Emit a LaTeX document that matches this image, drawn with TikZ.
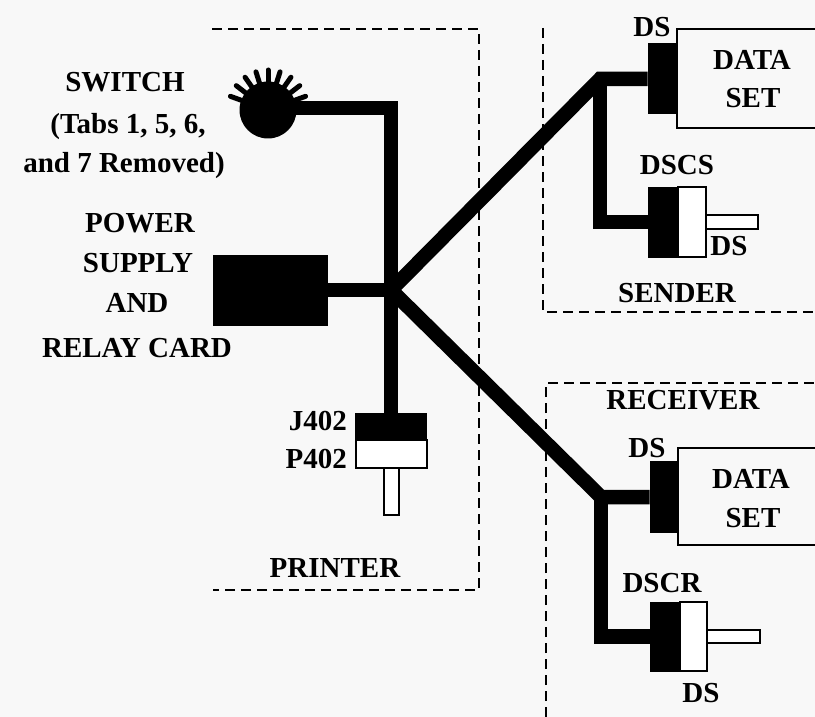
\documentclass[tikz,border=0pt]{standalone}
\usepackage{fontspec}
\setmainfont{Liberation Serif}
\definecolor{bgc}{RGB}{248,248,248}
\begin{document}
\begin{tikzpicture}[x=1pt,y=-1pt,
  wire/.style={line width=14.5pt, line join=miter},
  lbl/.style={font=\fontsize{29}{34}\selectfont\bfseries, inner sep=0pt, anchor=base},
  blk/.style={rectangle, fill=black, draw=black, line width=1pt, inner sep=0pt},
  wht/.style={rectangle, fill=white, draw=black, line width=2pt, inner sep=0pt},
  boxline/.style={dash pattern=on 10pt off 6pt, line width=2.2pt},
  thin/.style={line width=2pt}]
\fill[bgc] (0,0) rectangle (815,717);
\useasboundingbox (0,0) rectangle (815,717);

% dashed enclosures
\draw[boxline] (212,29) -- (479,29) -- (479,590) -- (213,590);
\draw[boxline] (543,28) -- (543,312) -- (815,312);
\draw[boxline] (546,717) -- (546,383) -- (815,383);

% components
\node[circle, fill=black, minimum size=57pt, inner sep=0pt] (sw) at (268,110) {};
\foreach \a in {160,142.5,...,20}
  \draw[line width=5pt, line cap=round] ({268+22*cos(\a)},{110-22*sin(\a)}) -- ({268+40*cos(\a)},{110-40*sin(\a)});
\node[blk, minimum width=114pt, minimum height=70pt] (psu) at (270,290) {};

\node[blk, minimum width=71pt, minimum height=27pt] (j402) at (391,426.5) {};
\node[wht, minimum width=71pt, minimum height=28pt] (p402) at (391,454) {};
\node[wht, minimum width=15pt, minimum height=47pt] (ppin) at (391,491.5) {};

% sender
\node[blk, minimum width=29pt, minimum height=70pt] (sds) at (662.5,79) {};
\draw[thin] (815,29) -- (677,29) -- (677,128) -- (815,128);
\node[blk, minimum width=30pt, minimum height=70pt] (sdscsb) at (663,222) {};
\node[wht, minimum width=28pt, minimum height=70pt] (sdscsw) at (692,222) {};
\node[wht, minimum width=52pt, minimum height=14pt] (spin) at (732,222) {};

% receiver
\node[blk, minimum width=28pt, minimum height=71pt] (rds) at (664,497) {};
\draw[thin] (815,448) -- (678,448) -- (678,545) -- (815,545);
\node[blk, minimum width=30pt, minimum height=69pt] (rdscrb) at (665,636.5) {};
\node[wht, minimum width=27pt, minimum height=69pt] (rdscrw) at (693.5,636.5) {};
\node[wht, minimum width=53pt, minimum height=13pt] (rpin) at (733.5,636.5) {};

% wires
\coordinate (swc) at (391,108);
\coordinate (jct) at (391,290);
\coordinate (sjct) at (600,79);
\coordinate (rjct) at (601,497);
\draw[wire] (sw.center |- swc) -- (swc) -- (j402.north);
\draw[wire] (psu.east) -- (jct);
\draw[wire] (jct) -- (sjct) -- (sds.west);
\draw[wire] (sjct) |- (sdscsb.west);
\draw[wire] (jct) -- (rjct) -- (rds.west);
\draw[wire] (rjct) |- (rdscrb.west);

% labels
\node[lbl] (t1) at (125,92) {SWITCH};
\node[lbl] (t2) at (128,133) {(Tabs 1, 5, 6,};
\node[lbl] (t3) at (124,172) {and 7 Removed)};
\node[lbl] (t4) at (140,232) {POWER};
\node[lbl] (t5) at (138,272) {SUPPLY};
\node[lbl] (t6) at (137,312) {AND};
\node[lbl] (t7) at (137,357) {RELAY CARD};
\node[lbl, anchor=base east] (t8) at (347,430) {J402};
\node[lbl, anchor=base east] (t9) at (347,468) {P402};
\node[lbl] (t10) at (335,577) {PRINTER};

\node[lbl] (t11) at (652,37) {DS};
\node[lbl] (t12) at (752,70) {DATA};
\node[lbl] (t13) at (753,108) {SET};
\node[lbl] (t14) at (677,175) {DSCS};
\node[lbl] (t15) at (729,255) {DS};
\node[lbl] (t16) at (677,302) {SENDER};

\node[lbl] (t17) at (683,409) {RECEIVER};
\node[lbl] (t18) at (647,457) {DS};
\node[lbl] (t19) at (751,488) {DATA};
\node[lbl] (t20) at (753,527) {SET};
\node[lbl] (t21) at (662,592) {DSCR};
\node[lbl] (t22) at (701,702) {DS};
\end{tikzpicture}
\end{document}
